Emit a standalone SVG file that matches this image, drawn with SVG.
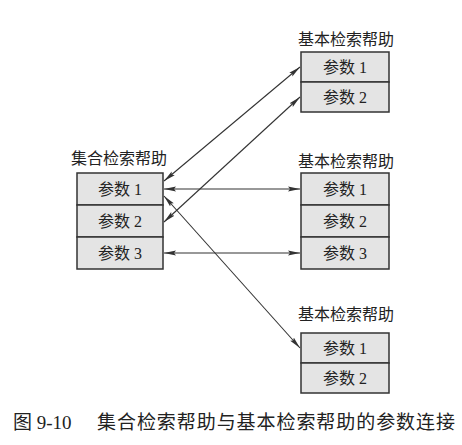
<svg xmlns="http://www.w3.org/2000/svg" width="462" height="445" viewBox="0 0 462 445">
<style>
.cell{fill:#e4e4e4;stroke:#333;stroke-width:1.5}
.t{font-family:"Liberation Serif","Noto Sans CJK SC",serif;font-size:16px;fill:#222;text-anchor:middle;dominant-baseline:central}
.h{font-family:"Noto Sans CJK SC",sans-serif;font-size:16px;fill:#222;text-anchor:middle;dominant-baseline:central}
.c{font-family:"Liberation Serif","Noto Sans CJK SC",serif;font-size:19px;fill:#222;dominant-baseline:central}
.ln{stroke:#333;stroke-width:1.1;fill:none;marker-start:url(#ah);marker-end:url(#ah)}
</style>
<defs>
<marker id="ah" viewBox="0 0 12 6" refX="12" refY="3" markerWidth="12" markerHeight="6" markerUnits="userSpaceOnUse" orient="auto-start-reverse">
<path d="M0,0.6 L12,3 L0,5.4 L2,3 z" fill="#333"/>
</marker>
</defs>
<g id="connectors">
<line class="ln" x1="164" y1="181" x2="300" y2="67"/>
<line class="ln" x1="164" y1="222" x2="300" y2="97"/>
<line class="ln" x1="164" y1="189" x2="300" y2="189"/>
<line class="ln" x1="164" y1="253" x2="300" y2="253"/>
<line class="ln" x1="164" y1="196" x2="300" y2="348"/>
</g>
<g id="collective">
<text class="h" x="119" y="157">集合检索帮助</text>
<rect class="cell" x="77" y="173" width="86" height="32"/>
<rect class="cell" x="77" y="205" width="86" height="32"/>
<rect class="cell" x="77" y="237" width="86" height="32"/>
<text class="t" x="120" y="189">参数 1</text>
<text class="t" x="120" y="221">参数 2</text>
<text class="t" x="120" y="253">参数 3</text>
</g>
<g id="elementary1">
<text class="h" x="346" y="38">基本检索帮助</text>
<rect class="cell" x="301" y="52" width="88" height="30"/>
<rect class="cell" x="301" y="82" width="88" height="30"/>
<text class="t" x="345" y="67">参数 1</text>
<text class="t" x="345" y="97">参数 2</text>
</g>
<g id="elementary2">
<text class="h" x="346" y="160">基本检索帮助</text>
<rect class="cell" x="301" y="173" width="88" height="32"/>
<rect class="cell" x="301" y="205" width="88" height="32"/>
<rect class="cell" x="301" y="237" width="88" height="32"/>
<text class="t" x="345" y="189">参数 1</text>
<text class="t" x="345" y="221">参数 2</text>
<text class="t" x="345" y="253">参数 3</text>
</g>
<g id="elementary3">
<text class="h" x="346" y="313">基本检索帮助</text>
<rect class="cell" x="301" y="333" width="88" height="30"/>
<rect class="cell" x="301" y="363" width="88" height="30"/>
<text class="t" x="345" y="348">参数 1</text>
<text class="t" x="345" y="378">参数 2</text>
</g>
<g id="caption">
<text class="c" x="13" y="422">图 9-10</text>
<text class="c" x="97" y="422" textLength="358" lengthAdjust="spacing">集合检索帮助与基本检索帮助的参数连接</text>
</g>
</svg>
